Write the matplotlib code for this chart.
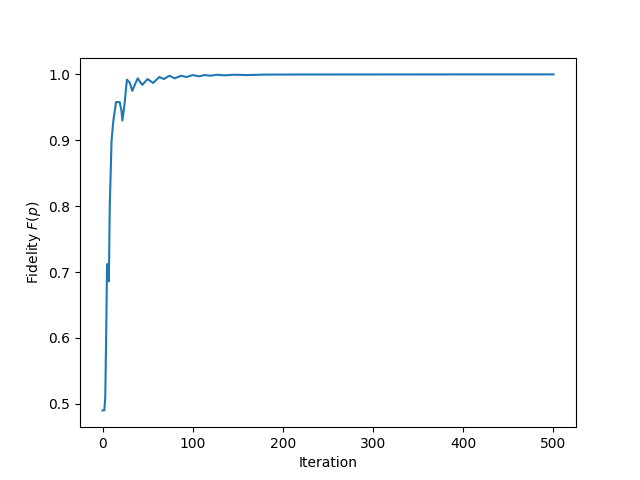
import matplotlib
matplotlib.use("Agg")
from matplotlib import pyplot as plt

# fidelity per iteration
iteration = [0, 2, 3, 4, 5, 6, 7, 8, 10, 12, 15, 19, 21, 22, 24, 27, 30, 33,
             36, 39, 44, 50, 56, 63, 68, 74, 80, 87, 93, 100, 107, 113, 120,
             127, 135, 145, 160, 180, 200, 250, 300, 400, 500]
fidelity = [0.490, 0.490, 0.510, 0.600, 0.712, 0.712, 0.686, 0.800, 0.900, 0.930,
            0.958, 0.958, 0.945, 0.930, 0.950, 0.992, 0.988, 0.975, 0.985,
            0.994, 0.984, 0.993, 0.987, 0.996, 0.993, 0.998, 0.994, 0.998,
            0.996, 0.999, 0.997, 0.999, 0.998, 0.9995, 0.9985, 0.9995,
            0.999, 0.9997, 0.9998, 0.9999, 0.9999, 1.0, 1.0]

plt.figure(figsize=(6.4, 4.8), dpi=100)
plt.plot(iteration, fidelity, color='#1f77b4')
plt.xlabel('Iteration')
plt.ylabel('Fidelity $F(p)$')
plt.savefig('out.png')
